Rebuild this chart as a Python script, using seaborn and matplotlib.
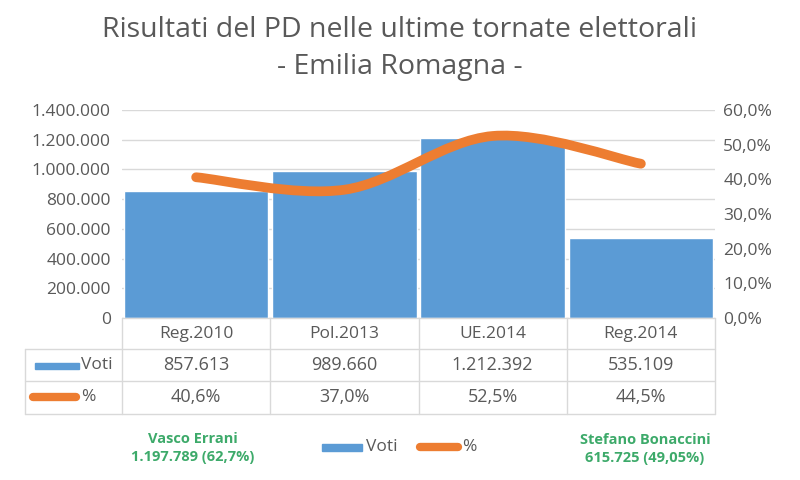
import matplotlib
matplotlib.use("Agg")
import matplotlib.pyplot as plt
from matplotlib.path import Path
from matplotlib.patches import PathPatch, Rectangle
from matplotlib.lines import Line2D
import seaborn as sns
import pandas as pd
import numpy as np

# --- data ---
categories = ["Reg.2010", "Pol.2013", "UE.2014", "Reg.2014"]
voti = [857613, 989660, 1212392, 535109]
percent = [40.6, 37.0, 52.5, 44.5]
voti_labels = ["857.613", "989.660", "1.212.392", "535.109"]
pct_labels = ["40,6%", "37,0%", "52,5%", "44,5%"]
left_ticks = [0, 200000, 400000, 600000, 800000, 1000000, 1200000, 1400000]
right_ticks = [0, 10, 20, 30, 40, 50, 60]
note_left = "Vasco Errani\n1.197.789 (62,7%)"
note_right = "Stefano Bonaccini\n615.725 (49,05%)"

BLUE = "#5B9BD5"
ORANGE = "#ED7D31"
GRAY = "#595959"
GRID = "#D9D9D9"
GREEN = "#3DAA6A"
FS = 12.5

sns.set_theme(style="white")
plt.rcParams['font.family'] = ['Open Sans', 'DejaVu Sans']

fig = plt.figure(figsize=(8, 4.8), dpi=100)
ax = fig.add_axes([122 / 800, 1 - 318 / 480, 593 / 800, 208 / 480])

df = pd.DataFrame({"cat": categories, "Voti": voti})
sns.barplot(data=df, x="cat", y="Voti", color=BLUE, saturation=1,
            width=0.975, ax=ax, zorder=2)
ax.set_xlim(-0.5, 3.5)
ax.set_ylim(0, 1400000)
ax.set_yticks(left_ticks)
ax.set_yticklabels([f"{v:,}".replace(",", ".") for v in left_ticks],
                   fontsize=FS, color=GRAY)
ax.set_xticks([])
ax.set_xlabel("")
ax.set_ylabel("")
ax.tick_params(axis="y", length=0, pad=8)
ax.yaxis.grid(True, color=GRID, lw=1, zorder=0)
for s in ax.spines.values():
    s.set_visible(False)

# secondary axis with smoothed line (Excel-style bezier)
ax2 = ax.twinx()
ax2.set_ylim(0, 60)
ax2.set_yticks(right_ticks)
ax2.set_yticklabels([f"{v:.1f}%".replace(".", ",") for v in right_ticks],
                    fontsize=FS, color=GRAY)
ax2.tick_params(axis="y", length=0, pad=6)
for s in ax2.spines.values():
    s.set_visible(False)

pts = np.column_stack([np.arange(len(percent)), percent]).astype(float)
verts = [tuple(pts[0])]
codes = [Path.MOVETO]
n = len(pts)
for i in range(n - 1):
    p_prev = pts[max(i - 1, 0)]
    p0 = pts[i]
    p1 = pts[i + 1]
    p_next = pts[min(i + 2, n - 1)]
    c1 = p0 + (p1 - p_prev) / 6
    c2 = p1 - (p_next - p0) / 6
    verts += [tuple(c1), tuple(c2), tuple(p1)]
    codes += [Path.CURVE4] * 3
ax2.add_patch(PathPatch(Path(verts, codes), fill=False, edgecolor=ORANGE,
                        lw=7, capstyle="round", joinstyle="round", zorder=3))

# --- data table under the chart ---
tr = ax.get_xaxis_transform()
h = 208.0
row_y = [0, -31 / h, -63 / h, -96 / h]
x_left = -0.5 - (122 - 25) / 148.25
line_kw = dict(color=GRID, lw=1, transform=tr, clip_on=False)
for y in row_y:
    x0 = -0.5 if y == 0 else x_left
    ax.add_line(Line2D([x0, 3.5], [y, y], **line_kw))
for xb in np.arange(-0.5, 4.0, 1.0):
    ax.add_line(Line2D([xb, xb], [row_y[0], row_y[-1]], **line_kw))
ax.add_line(Line2D([x_left, x_left], [row_y[1], row_y[-1]], **line_kw))

for i, cat in enumerate(categories):
    ax.text(i, (row_y[0] + row_y[1]) / 2, cat, transform=tr, ha="center",
            va="center", fontsize=FS, color=GRAY)
    ax.text(i, (row_y[1] + row_y[2]) / 2, voti_labels[i], transform=tr,
            ha="center", va="center", fontsize=FS + 0.5, color=GRAY)
    ax.text(i, (row_y[2] + row_y[3]) / 2, pct_labels[i], transform=tr,
            ha="center", va="center", fontsize=FS + 0.5, color=GRAY)

# legend keys inside the table
fig.patches.append(Rectangle((35 / 800, 1 - 369 / 480), 44 / 800, 6 / 480,
                             transform=fig.transFigure, color=BLUE))
fig.text(81 / 800, 1 - 365 / 480, "Voti", fontsize=FS, color=GRAY,
         va="center", ha="left")
fig.lines.append(Line2D([33 / 800, 76 / 800], [1 - 397 / 480] * 2,
                        transform=fig.transFigure, color=ORANGE, lw=6,
                        solid_capstyle="round"))
fig.text(81 / 800, 1 - 397 / 480, "%", fontsize=FS, color=GRAY,
         va="center", ha="left")

# bottom legend
fig.patches.append(Rectangle((322 / 800, 1 - 451 / 480), 40 / 800, 7 / 480,
                             transform=fig.transFigure, color=BLUE))
fig.text(366 / 800, 1 - 447 / 480, "Voti", fontsize=FS, color=GRAY,
         va="center", ha="left")
fig.lines.append(Line2D([420 / 800, 458 / 800], [1 - 447 / 480] * 2,
                        transform=fig.transFigure, color=ORANGE, lw=6,
                        solid_capstyle="round"))
fig.text(462 / 800, 1 - 447 / 480, "%", fontsize=FS, color=GRAY,
         va="center", ha="left")

# candidate notes
fig.text(193 / 800, 1 - 448 / 480, note_left, fontsize=10.5, color=GREEN,
         fontweight="bold", ha="center", va="center", linespacing=1.45)
fig.text(645 / 800, 1 - 449 / 480, note_right, fontsize=10.5, color=GREEN,
         fontweight="bold", ha="center", va="center", linespacing=1.45)

# title
fig.text(0.5, 1 - 30 / 480, "Risultati del PD nelle ultime tornate elettorali",
         fontsize=20.5, color=GRAY, ha="center", va="center")
fig.text(0.5, 1 - 67 / 480, "- Emilia Romagna -",
         fontsize=20.5, color=GRAY, ha="center", va="center")

fig.savefig("out.png", dpi=100, facecolor="white")
